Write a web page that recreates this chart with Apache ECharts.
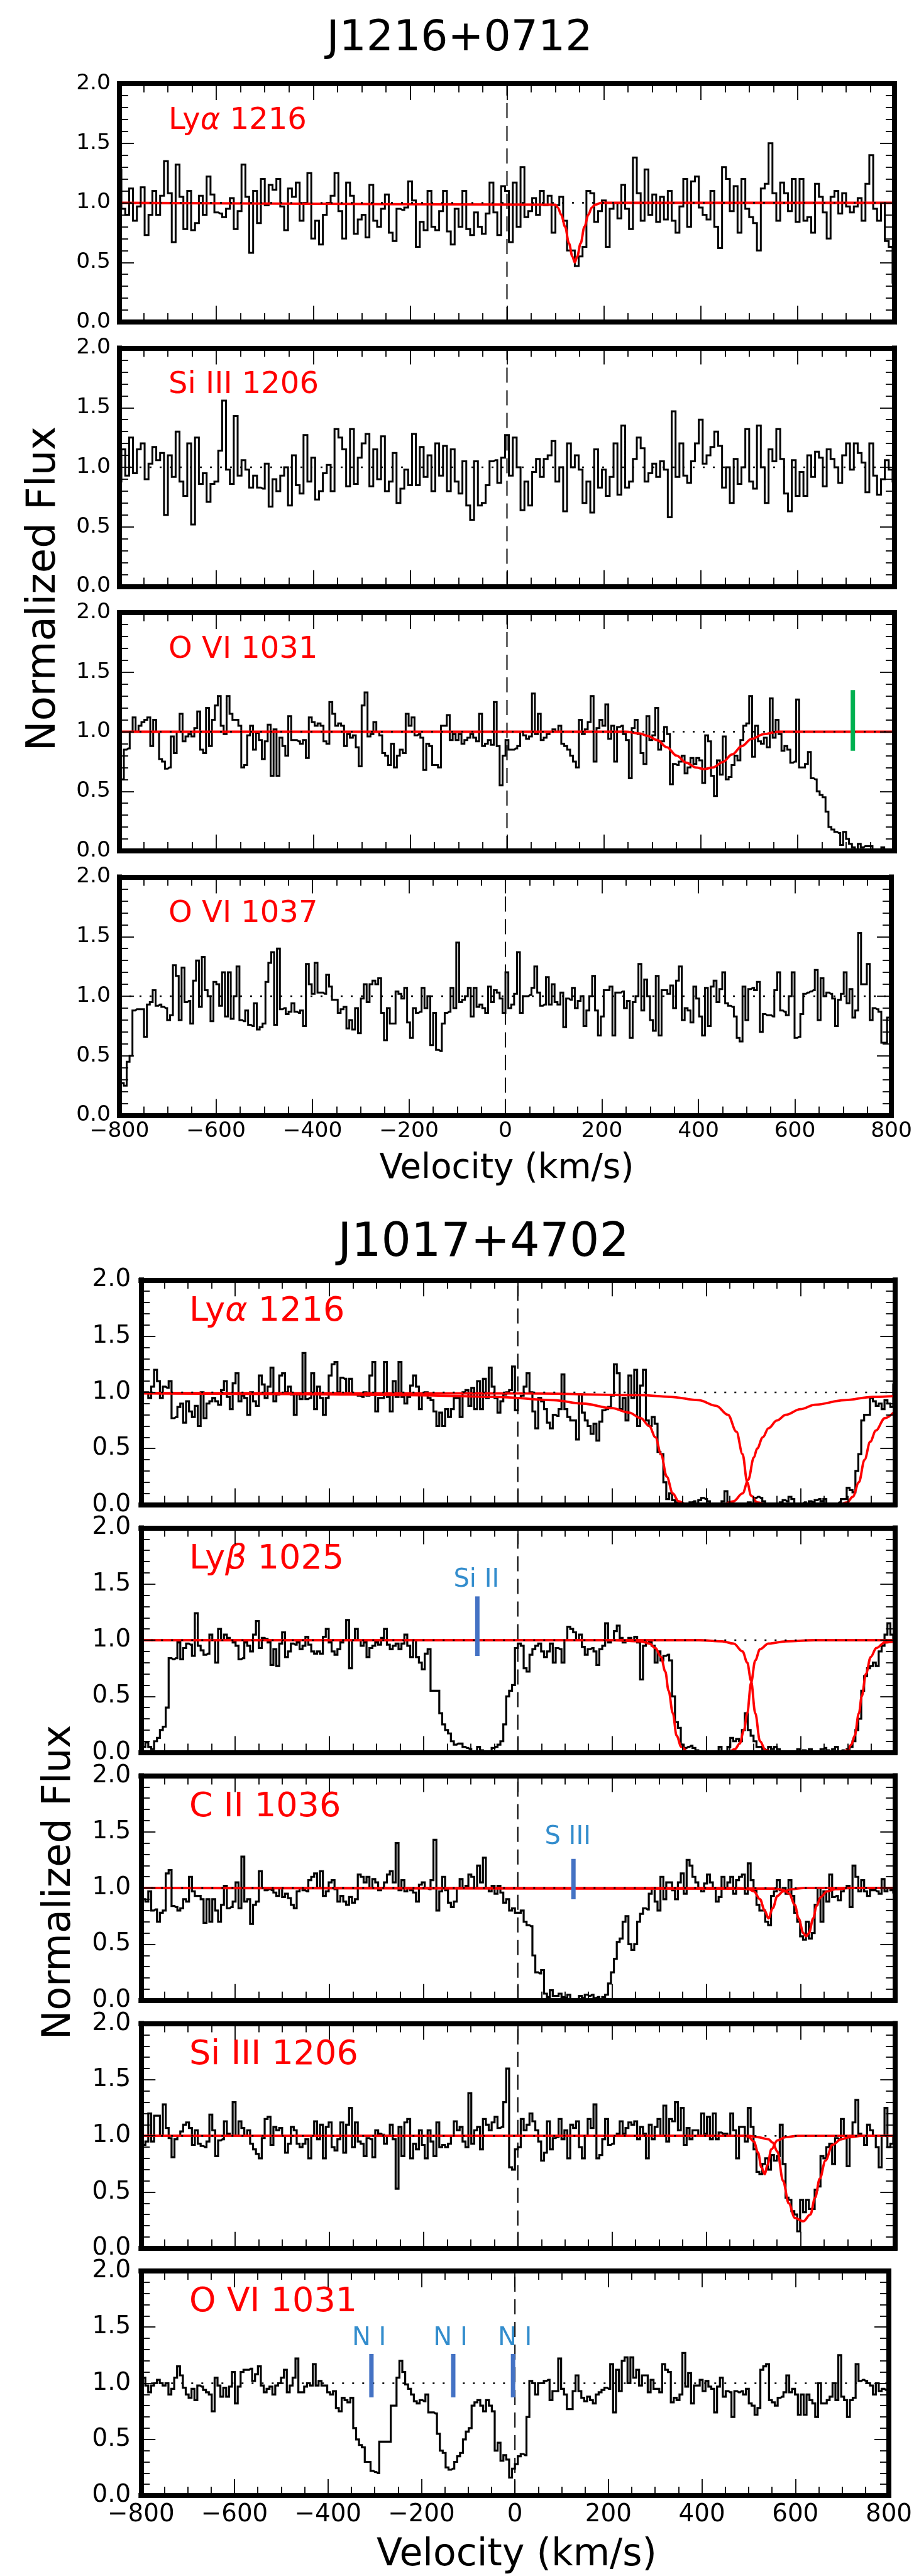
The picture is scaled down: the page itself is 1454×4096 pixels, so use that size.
<!DOCTYPE html>
<html>
<head>
<meta charset="utf-8">
<script src="https://cdn.jsdelivr.net/npm/echarts@6.0.0/dist/echarts.min.js"></script>
<style>
html, body { margin: 0; padding: 0; background: #fff; }
#main { width: 1454px; height: 4096px; }
</style>
</head>
<body>
<div id="main"></div>
<script>
// velocity range of every panel (km/s); fluxes are evenly spaced pixels across it
var velMin = -800, velMax = 800;
var xTicks = [-800, -600, -400, -200, 0, 200, 400, 600, 800];
var yTicks = ['0.0', '0.5', '1.0', '1.5', '2.0'];

// ---- J1216+0712 ----
var fluxJ1216Lya = [1.28,0.95,0.9,1.12,0.85,0.97,1.13,0.73,0.9,1.1,0.9,1.06,1.35,1.08,0.67,1.32,1.05,0.78,1.1,0.77,0.83,1.06,0.9,1.22,1.07,
0.92,0.91,0.88,0.95,1.04,0.78,0.93,1.32,1.05,0.58,1.1,0.83,1.2,0.98,1.15,1.11,1.2,0.97,0.77,1.12,1.05,1.17,0.85,1.0,1.25,
0.7,0.85,0.65,0.9,1.0,1.06,1.25,0.93,0.7,1.17,1.06,0.74,0.86,0.9,0.71,1.15,0.85,0.8,0.95,1.07,0.75,0.68,0.95,0.94,0.96,
1.18,1.02,0.63,0.84,0.77,1.1,0.8,0.77,0.93,1.1,0.76,0.65,0.95,0.8,1.1,0.78,0.73,0.92,0.8,0.74,0.91,1.17,0.92,0.73,1.14,
1.1,0.67,1.17,0.8,1.3,0.88,0.93,1.04,0.9,1.1,0.98,1.06,0.75,0.98,1.05,0.85,0.6,0.6,0.47,0.55,0.63,1.1,1.08,0.84,0.93,
1.02,0.63,0.95,1.0,0.87,1.15,0.95,0.78,1.38,1.08,0.85,1.28,0.9,1.07,0.84,1.05,0.86,1.1,0.85,0.75,0.97,1.2,0.8,1.18,1.22,
0.96,0.9,0.86,1.1,0.8,0.62,1.3,1.2,0.93,1.14,0.75,1.2,0.95,0.88,0.83,0.6,1.12,1.16,1.5,1.08,0.85,1.17,1.08,0.93,1.2,
0.84,1.2,0.85,0.88,0.75,1.16,1.05,0.92,0.7,1.05,1.1,0.91,1.08,0.97,0.92,0.97,1.04,0.85,1.16,1.4,0.95,0.85,1.0,0.68,0.63,0.33];

var fluxJ1216SiIII = [0.88,1.15,0.93,1.25,0.95,1.15,1.2,0.9,1.03,1.17,1.06,1.12,0.6,1.1,0.92,1.3,0.88,0.76,1.2,0.52,1.25,0.86,0.95,0.71,0.86,
0.88,1.14,1.56,0.98,0.86,1.43,0.93,1.06,0.98,0.83,0.93,0.83,0.82,1.03,0.67,0.9,0.8,0.93,1.0,0.68,1.1,0.85,0.78,1.27,0.88,
1.08,0.73,0.8,0.95,1.02,0.8,1.32,1.25,1.15,0.84,1.32,0.86,1.08,1.2,1.28,0.84,1.15,0.9,1.26,0.8,0.88,1.12,0.7,0.82,0.98,
0.85,1.28,0.85,1.17,0.92,1.1,0.8,1.2,0.93,1.18,0.8,1.15,0.88,0.78,1.05,0.68,0.56,1.05,0.68,0.7,0.85,1.05,1.06,0.87,1.08,
1.27,0.93,1.25,1.0,0.64,0.88,0.68,0.96,1.07,0.92,1.07,1.1,1.22,0.88,1.0,0.63,1.2,1.0,1.1,0.98,0.7,0.88,0.62,1.15,0.83,
0.98,0.76,0.92,1.2,0.77,1.35,0.83,0.88,1.07,1.25,1.16,0.88,0.95,1.03,0.92,1.05,0.98,0.58,1.47,0.92,1.2,0.93,0.87,1.05,1.2,
1.4,1.03,1.1,1.17,1.3,1.18,0.83,1.0,0.7,1.07,0.86,1.0,1.32,0.88,0.82,1.35,1.0,0.7,1.15,1.05,1.32,1.07,0.78,0.63,1.06,
0.76,0.96,0.76,1.1,0.92,1.13,1.08,0.84,1.15,1.07,1.0,0.87,1.1,1.2,0.98,1.2,1.12,1.04,0.79,1.2,0.93,0.77,0.9,1.06,0.98,0.88];

var fluxJ1216OVI1031 = [0.9,0.6,0.85,0.86,1.0,1.12,1.0,1.05,1.08,1.1,1.12,0.88,1.1,1.0,0.77,0.75,0.69,0.7,0.96,0.82,1.0,1.15,0.92,0.96,0.98,0.96,1.03,1.17,0.85,0.82,
1.2,0.88,1.1,1.22,1.3,1.05,0.98,1.3,1.15,1.1,1.1,1.05,0.7,0.72,0.97,1.05,0.85,0.99,0.93,0.77,0.92,1.06,0.63,1.02,0.63,0.95,0.88,0.8,1.13,0.93,
0.93,0.92,0.9,0.93,0.78,1.12,1.08,1.05,1.07,1.05,0.92,0.9,1.25,1.15,1.05,1.07,1.05,0.88,0.98,0.95,0.97,0.87,0.71,1.22,1.33,0.96,0.98,1.08,1.0,0.97,
0.82,0.8,0.72,0.9,0.7,0.8,0.85,0.82,1.15,1.05,1.12,0.97,0.98,0.95,0.68,0.9,0.88,0.72,0.72,0.7,1.05,1.05,1.14,0.93,0.98,0.93,0.98,0.9,0.93,0.95,
0.98,0.95,0.92,1.15,0.88,0.9,0.93,0.89,1.25,0.88,0.55,0.8,0.93,0.85,0.85,0.86,0.88,1.0,0.97,0.94,0.96,1.32,0.98,1.15,0.93,0.95,0.98,1.0,1.02,1.0,
1.05,0.9,0.88,0.85,0.8,0.75,0.7,1.1,0.98,1.02,1.08,1.3,0.75,1.03,1.1,1.05,1.23,0.94,1.05,0.75,1.04,1.05,0.98,0.93,0.61,1.03,1.1,0.98,0.82,0.73,
1.13,0.93,0.97,1.2,0.85,0.92,1.04,0.98,0.56,0.73,0.72,0.75,0.8,0.65,0.7,0.78,0.73,0.78,0.76,0.57,0.97,0.92,0.63,0.46,0.76,0.64,0.96,0.6,0.62,0.72,
0.8,0.76,0.93,1.05,1.07,1.3,0.79,1.05,0.92,0.9,0.95,0.87,1.28,0.95,1.1,0.98,0.84,0.88,0.85,0.74,0.75,1.27,0.7,0.7,0.73,0.83,0.61,0.6,0.5,0.47,
0.45,0.33,0.2,0.18,0.16,0.15,0.05,0.16,0.1,0.06,0.03,0.0,0.06,0.03,0.04,0.04,0.04,0.0,0.0,0.0,0.03,0.0,0.0,0.0,0.02];

var fluxJ1216OVI1037 = [0.05,0.27,0.25,0.45,0.5,0.88,0.89,0.89,0.89,0.66,0.93,0.95,1.05,0.92,0.93,0.91,0.9,0.8,0.84,1.26,1.17,0.8,1.24,0.95,0.96,0.77,1.13,1.3,0.91,1.33,
1.05,1.0,0.79,1.12,1.1,0.92,1.2,0.83,1.2,0.81,1.0,1.25,0.8,0.79,0.88,0.76,0.75,0.94,0.72,0.74,0.77,1.12,1.28,1.37,0.76,1.4,0.89,0.9,0.85,0.87,
0.94,0.87,0.86,0.88,0.75,1.27,1.1,1.02,1.28,1.03,1.03,1.02,1.18,1.08,0.97,0.97,0.86,0.89,0.91,0.73,0.8,0.72,0.9,0.69,0.98,1.1,0.95,1.1,1.13,1.1,
1.15,0.86,0.63,0.9,0.77,0.77,1.04,1.02,0.98,1.07,0.78,0.65,0.9,0.86,0.87,1.07,0.9,1.0,0.59,0.86,0.55,0.54,0.77,0.86,0.87,1.07,0.9,1.45,0.95,0.97,
1.0,1.07,0.83,1.07,0.91,0.93,0.9,0.86,1.08,0.95,1.05,1.03,0.98,0.86,1.2,0.9,0.93,1.02,1.37,0.86,1.0,1.0,1.01,1.07,1.25,1.03,0.92,0.93,1.16,0.93,
1.1,0.95,0.93,1.03,0.74,0.98,0.97,1.07,0.9,0.96,1.0,0.75,0.88,1.0,1.17,0.88,0.67,0.83,1.05,1.05,1.08,0.67,1.03,1.03,1.04,0.9,0.96,0.65,0.95,1.0,
1.27,0.88,1.14,1.0,0.8,0.71,1.17,0.67,1.05,1.05,1.02,1.09,0.9,1.13,1.25,0.8,0.9,0.88,0.78,1.08,0.98,0.83,0.67,1.07,0.75,1.08,1.13,0.95,1.06,1.2,
0.94,0.92,0.91,0.83,0.65,0.62,1.08,0.8,1.06,1.07,1.05,1.12,0.7,0.85,0.84,0.84,0.83,1.05,1.2,0.88,0.87,0.84,1.0,1.2,0.65,0.66,0.85,1.02,1.03,1.04,
1.05,1.22,0.8,1.15,1.0,1.03,1.02,0.98,0.75,0.97,1.02,1.2,0.94,1.06,0.82,0.88,1.53,1.1,1.1,1.27,0.8,0.9,0.89,0.87,0.61,0.61,0.82,0.82];

// ---- J1017+4702 ----
var fluxJ1017Lya = [0.96,1.0,1.0,0.95,1.05,1.2,1.1,0.95,1.05,1.04,1.1,0.77,0.78,0.87,0.9,0.73,0.92,0.83,0.78,0.88,0.7,1.0,0.77,0.9,0.92,0.95,0.92,0.89,1.02,1.1,
0.96,0.85,1.08,1.17,0.92,0.97,0.95,0.8,1.0,0.92,0.88,1.15,1.07,0.95,1.05,1.22,0.92,0.98,1.15,1.17,1.0,1.05,0.98,0.8,0.98,0.94,1.35,0.94,0.95,1.17,
0.85,1.05,0.95,0.8,0.95,1.15,1.25,1.27,1.0,1.13,1.12,0.98,1.12,0.98,0.99,0.97,0.96,1.0,0.97,1.15,1.27,0.83,0.95,0.95,1.27,0.96,0.83,1.1,0.96,1.27,
0.96,0.9,0.96,1.06,1.15,1.05,0.85,0.98,1.0,0.95,0.93,0.83,0.7,0.82,0.7,0.85,0.78,0.85,0.95,0.95,0.78,1.0,1.02,0.88,1.04,0.85,1.1,0.85,1.12,0.95,
1.22,1.05,0.95,0.82,0.92,0.98,1.0,1.02,1.23,0.84,0.95,0.97,1.05,1.17,1.0,0.83,0.68,0.95,0.92,0.85,0.73,0.68,0.8,0.79,0.85,1.16,0.85,0.78,0.75,0.75,
0.58,0.98,0.82,0.75,0.7,0.63,0.72,0.57,0.74,0.84,0.85,0.87,0.97,1.25,1.17,0.85,0.95,0.75,1.15,0.95,1.2,0.7,1.06,1.2,0.75,0.7,0.78,0.72,0.47,0.45,
0.2,0.05,0.1,0.04,0.02,0.01,0.0,0.01,0.0,0.02,0.03,0.0,0.04,0.06,0.05,0.03,0.01,0.0,0.0,0.0,0.03,0.12,0.02,0.0,0.0,0.0,0.0,0.01,0.0,0.02,
0.0,0.06,0.07,0.06,0.03,0.01,0.0,0.0,0.0,0.0,0.02,0.04,0.03,0.07,0.05,0.01,0.0,0.01,0.02,0.0,0.03,0.02,0.04,0.05,0.03,0.05,0.01,0.0,0.0,0.01,
0.02,0.05,0.05,0.15,0.13,0.11,0.3,0.45,0.75,0.8,0.8,0.95,0.92,0.88,0.9,0.85,0.93,0.9,0.87,1.07];

var fluxJ1017Lyb = [0.1,0.05,0.09,0.05,0.03,0.1,0.13,0.2,0.23,0.4,0.84,0.83,0.84,0.98,0.83,0.93,0.97,0.96,0.86,1.24,0.95,0.91,0.87,0.88,1.05,1.0,0.8,1.1,1.0,1.05,
1.02,1.0,0.98,0.95,0.83,0.84,0.98,0.95,0.9,1.05,1.17,0.93,1.02,1.01,0.98,0.78,0.92,0.77,0.97,1.07,0.85,0.9,0.97,0.96,0.98,0.92,0.95,1.03,0.96,0.9,
0.88,0.9,0.88,1.03,1.1,0.98,0.9,0.87,0.92,0.98,1.0,1.18,0.75,1.0,1.1,1.0,0.95,0.98,0.85,0.93,0.95,0.98,0.96,1.02,1.1,0.96,0.92,0.95,0.97,0.92,
0.97,1.05,0.95,0.85,1.0,0.85,0.8,0.74,0.88,0.92,0.55,0.55,0.55,0.35,0.25,0.2,0.17,0.1,0.07,0.08,0.08,0.05,0.04,0.03,0.01,0.0,0.05,0.02,0.0,0.0,
0.01,0.04,0.05,0.07,0.1,0.25,0.5,0.55,0.6,0.93,0.97,0.95,0.75,0.72,0.87,0.92,0.95,0.97,0.9,0.85,0.9,0.97,0.8,0.93,0.92,0.8,1.0,1.12,1.1,1.07,
1.0,1.05,0.94,0.87,0.92,0.93,0.9,0.78,0.92,0.95,1.15,0.98,1.0,1.08,1.13,1.02,0.98,1.0,1.02,1.0,1.03,0.98,0.65,0.95,1.0,0.98,0.95,0.8,0.9,0.82,
0.86,0.87,0.82,0.5,0.27,0.22,0.07,0.04,0.05,0.06,0.04,0.02,0.0,0.01,0.0,0.0,0.0,0.01,0.0,0.05,0.01,0.0,0.05,0.13,0.1,0.12,0.1,0.2,0.35,0.2,
0.15,0.1,0.05,0.05,0.03,0.02,0.05,0.03,0.05,0.03,0.01,0.0,0.0,0.0,0.0,0.0,0.03,0.0,0.02,0.01,0.03,0.0,0.01,0.0,0.03,0.04,0.02,0.0,0.03,0.05,
0.01,0.02,0.0,0.03,0.05,0.1,0.2,0.3,0.55,0.68,0.75,0.77,0.8,0.77,0.9,0.95,1.05,1.15,1.05,1.0];

var fluxJ1017CII = [0.98,0.9,0.88,0.97,0.8,0.81,0.7,0.78,0.8,1.13,1.16,0.84,0.83,0.8,0.82,0.9,0.88,1.1,0.97,0.93,0.93,0.9,0.69,0.9,0.7,0.9,0.8,0.7,0.85,1.02,
0.82,0.83,0.88,1.05,0.82,1.28,0.88,0.9,0.68,0.85,0.88,1.15,1.0,0.98,0.99,0.98,0.96,0.93,1.0,0.92,0.95,0.91,0.85,0.82,0.97,1.0,0.98,0.97,1.07,1.1,
1.13,1.0,1.15,0.93,0.97,1.05,1.07,0.99,0.88,0.93,0.88,0.85,0.92,0.87,0.9,1.12,1.1,1.05,1.1,1.0,1.08,1.05,0.98,1.0,1.05,1.12,1.15,1.05,1.4,0.98,
1.07,0.97,1.0,0.98,0.96,0.88,1.03,1.05,1.0,0.99,1.07,1.43,0.8,0.97,1.1,0.98,0.87,0.83,0.88,1.0,1.08,1.0,1.02,1.12,1.1,1.0,1.2,1.05,1.27,1.0,
0.97,1.02,0.95,1.02,0.96,0.87,0.9,0.8,0.82,0.78,0.78,0.8,0.7,0.67,0.66,0.4,0.25,0.24,0.27,0.06,0.03,0.09,0.04,0.04,0.06,0.03,0.02,0.05,0.0,0.01,
0.0,0.04,0.02,0.05,0.04,0.05,0.02,0.03,0.0,0.03,0.05,0.15,0.25,0.37,0.52,0.55,0.7,0.75,0.5,0.45,0.5,0.7,0.77,0.82,0.81,0.95,1.0,0.88,0.8,1.1,
0.9,1.05,1.05,0.98,0.9,1.05,1.13,0.95,1.25,1.2,1.1,1.05,1.0,0.97,1.04,1.12,1.05,1.0,0.88,0.92,1.1,1.0,1.05,1.1,0.95,1.07,1.1,1.12,0.95,1.22,
1.07,0.98,0.85,0.8,0.8,0.7,0.67,0.93,0.97,1.07,0.98,1.0,0.95,1.07,0.93,0.78,0.7,0.57,0.54,0.7,0.55,0.6,0.85,1.0,0.7,0.97,0.88,1.12,0.92,0.93,
0.89,0.97,1.0,1.02,0.83,1.2,1.1,0.97,1.07,0.97,0.93,0.98,0.98,0.97,0.95,1.08,0.97,1.0,0.98,0.96];

var fluxJ1017SiIII = [1.0,0.92,0.95,1.2,0.95,1.18,1.18,1.0,1.28,1.07,0.98,0.81,0.97,1.0,1.04,1.1,1.12,1.07,0.92,1.05,0.93,0.91,0.9,0.95,1.19,1.05,0.82,0.96,0.97,1.13,
1.02,1.0,1.3,1.0,1.13,1.07,1.0,1.05,0.93,0.88,0.84,0.8,0.98,1.15,1.17,0.92,1.08,1.05,1.07,1.0,0.85,0.93,1.08,1.05,0.93,0.9,0.93,0.97,0.8,1.0,
1.13,0.97,1.1,0.8,1.08,1.12,0.9,0.87,0.97,1.12,0.85,1.1,1.25,0.9,1.12,0.95,0.93,0.82,0.98,0.97,0.81,1.05,1.02,1.01,0.93,1.0,1.1,0.97,0.53,1.08,
0.82,1.12,1.15,0.8,0.93,0.88,1.05,0.92,0.8,1.05,0.95,0.82,1.12,0.9,0.92,0.9,0.93,1.0,1.13,1.05,1.08,0.95,0.9,1.38,0.93,1.05,1.08,0.88,1.15,1.1,
1.05,1.12,1.17,1.07,1.08,1.3,1.6,0.72,0.7,0.88,0.9,1.15,1.05,1.1,1.2,1.13,1.05,0.95,0.78,0.85,1.13,0.88,0.98,0.99,1.15,0.97,1.05,0.8,1.1,1.07,
1.13,0.9,0.8,1.0,1.15,1.07,1.28,0.8,0.83,0.97,1.15,0.92,0.93,1.0,1.02,1.13,1.02,1.07,1.12,1.1,1.13,0.97,1.08,1.02,0.8,1.1,0.97,1.08,1.15,1.0,
1.27,0.95,1.15,1.13,1.3,1.05,1.25,0.92,1.07,0.97,1.05,1.05,1.0,1.2,1.02,1.17,0.97,1.2,0.97,1.03,1.02,1.02,1.0,1.2,1.05,0.8,1.08,1.08,0.95,1.25,
1.08,0.88,0.68,0.66,0.75,0.8,0.7,0.83,0.78,0.82,1.1,0.75,0.45,0.43,0.33,0.3,0.15,0.43,0.32,0.43,0.35,0.35,0.52,0.55,0.82,0.8,0.9,0.93,0.75,0.98,
0.97,1.15,1.0,0.73,1.0,1.12,1.32,1.02,1.0,0.92,1.1,1.05,1.0,0.9,0.72,1.0,1.25,0.9,0.93,1.0];

var fluxJ1017OVI1031 = [0.83,1.05,0.98,0.92,0.98,1.0,1.03,1.0,0.98,1.0,0.9,0.95,1.05,1.15,1.07,0.96,0.9,0.87,0.95,0.85,0.98,0.97,0.94,0.92,0.9,0.75,1.05,0.98,0.88,0.96,
0.88,0.97,1.1,0.82,0.97,1.1,1.12,1.12,1.13,1.02,1.08,1.15,0.98,0.92,0.95,0.97,0.9,0.98,1.0,1.05,1.12,0.92,0.98,1.05,1.22,0.92,0.92,0.97,1.0,0.98,
1.17,0.98,1.02,0.98,0.98,0.92,0.9,0.93,0.78,0.75,0.87,0.85,0.83,0.87,0.6,0.5,0.45,0.43,0.3,0.3,0.22,0.21,0.2,0.48,0.48,0.48,0.48,0.8,0.8,1.05,
1.2,1.1,0.99,0.95,0.9,0.84,0.82,0.85,0.84,0.9,0.74,0.74,0.73,0.55,0.4,0.38,0.25,0.23,0.24,0.3,0.35,0.38,0.5,0.57,0.6,0.8,0.83,0.85,0.8,0.75,
0.85,0.8,0.75,0.4,0.47,0.31,0.36,0.32,0.16,0.24,0.28,0.35,0.37,0.36,0.7,1.02,1.0,0.9,1.0,1.0,1.02,1.03,0.85,0.93,0.93,1.22,0.95,0.9,0.77,0.77,
0.93,1.07,0.93,0.87,0.84,0.88,0.85,0.82,0.9,0.92,0.94,0.96,0.95,1.17,0.74,1.12,0.93,1.2,1.23,1.0,1.23,1.05,1.12,0.98,1.07,1.07,0.92,1.03,0.95,0.95,
0.92,1.17,1.12,1.1,0.83,0.87,0.85,0.9,1.27,0.97,1.09,0.82,0.98,0.98,1.03,0.93,1.02,0.97,0.95,0.74,0.97,1.05,0.88,0.93,0.92,0.7,0.93,0.92,0.93,0.9,
0.95,0.82,0.8,0.72,0.78,1.12,1.15,1.17,0.85,0.83,0.8,0.87,0.88,0.92,1.07,0.92,0.95,0.9,0.72,0.9,0.72,0.9,0.85,0.82,0.7,1.0,0.82,0.82,0.85,0.88,
1.0,0.85,1.25,0.88,0.85,0.7,0.85,0.87,1.17,1.02,1.03,1.02,1.0,0.98,0.9,1.0,0.93,0.95,0.94,0.88];

// fitted profiles, [velocity, flux] points
var modelJ1216Lya = [[-800,1],[100,0.985],[105,0.96],[112,0.9],[120,0.8],[128,0.66],[135,0.55],[140,0.5],[145,0.55],[152,0.66],[160,0.8],[168,0.9],[175,0.96],[182,0.985],[195,1],[800,1]];
var modelJ1216OVI = [[-800,1],[245,1],[275,0.985],[290,0.965],[310,0.93],[330,0.87],[350,0.8],[370,0.74],[390,0.7],[407,0.687],[425,0.7],[445,0.745],[465,0.81],[485,0.88],[505,0.94],[530,0.98],[560,1],[800,1]];
var modelJ1017LyaA = [[-800,0.99],[-479,0.985],[-233,0.975],[-48,0.96],[76,0.93],[138,0.9],[199,0.86],[236,0.82],[261,0.77],[279,0.7],[292,0.6],[304,0.45],[316,0.25],[329,0.1],[341,0.03],[360,0],[434,0],[458,0.03],[477,0.1],[489,0.22],[501,0.42],[508,0.5],[520,0.6],[532,0.68],[550,0.75],[569,0.8],[600,0.85],[631,0.89],[693,0.93],[754,0.96],[800,0.967]];
var modelJ1017LyaB = [[-800,0.995],[14,0.99],[261,0.975],[323,0.96],[384,0.93],[421,0.88],[446,0.8],[464,0.65],[477,0.45],[487,0.2],[495,0.08],[508,0.02],[532,0],[680,0],[699,0.02],[711,0.07],[724,0.2],[736,0.4],[748,0.56],[760,0.66],[779,0.77],[800,0.83]];
var modelJ1017LybA = [[-800,1],[200,1],[261,0.99],[279,0.97],[292,0.93],[304,0.85],[313,0.72],[320,0.55],[329,0.35],[337,0.15],[347,0.05],[360,0.01],[372,0],[446,0],[461,0.03],[471,0.08],[480,0.2],[487,0.35],[495,0.62],[504,0.82],[514,0.92],[532,0.97],[569,0.99],[631,1],[800,1]];
var modelJ1017LybB = [[-800,1],[384,1],[434,0.99],[458,0.97],[477,0.9],[487,0.8],[495,0.64],[504,0.35],[514,0.1],[526,0.02],[545,0],[687,0],[699,0.02],[708,0.07],[715,0.15],[724,0.35],[730,0.5],[739,0.7],[749,0.85],[761,0.93],[779,0.98],[800,0.99]];
var modelJ1017CIIA = [[-800,1],[470,1],[490,0.99],[501,0.97],[514,0.9],[524,0.8],[532,0.73],[541,0.82],[551,0.93],[563,0.97],[582,0.99],[606,1],[800,1]];
var modelJ1017CIIB = [[-800,1],[545,0.995],[563,0.985],[576,0.95],[588,0.85],[596,0.73],[606,0.6],[612,0.57],[618,0.6],[627,0.73],[634,0.84],[643,0.92],[656,0.97],[674,0.99],[705,1],[800,1]];
var modelJ1017SiIIIA = [[-800,1],[480,1],[489,0.995],[501,0.95],[510,0.85],[517,0.72],[524,0.66],[530,0.74],[538,0.88],[551,0.96],[569,0.99],[594,1],[800,1]];
var modelJ1017SiIIIB = [[-800,1],[490,1],[508,0.99],[532,0.97],[541,0.94],[551,0.86],[563,0.6],[575,0.4],[588,0.27],[606,0.24],[621,0.3],[631,0.45],[641,0.62],[653,0.78],[668,0.92],[686,0.97],[705,0.99],[730,1],[800,1]];

// line identification marks: velocity, bar bottom/top flux, label anchor
var marksJ1216OVI = [{name: '', v: 714, lo: 0.84, hi: 1.35, color: '#00b050'}];
var marksJ1017Lyb = [{name: 'Si II', v: -86, lo: 0.86, hi: 1.39, tv: -88, ty: 1.42, color: '#4472c4'}];
var marksJ1017CII = [{name: 'S III', v: 118, lo: 0.9, hi: 1.26, tv: 106, ty: 1.335, color: '#4472c4'}];
var marksJ1017OVI = [
  {name: 'N I', v: -307, lo: 0.874, hi: 1.26, tv: -312, ty: 1.28, color: '#4472c4'},
  {name: 'N I', v: -132, lo: 0.874, hi: 1.26, tv: -138, ty: 1.28, color: '#4472c4'},
  {name: 'N I', v: -4, lo: 0.874, hi: 1.26, tv: 0, ty: 1.28, color: '#4472c4'}
];

var FONT = 'DejaVu Sans';

var groups = [
  {left: 190, width: 1233, height: 379, tops: [133, 553.5, 974, 1394.5],
   tickFont: 34.5, xMargin: 8, yMargin: 14, tagFont: 48, tagLeft: 268, tagBase: 76, lw: 3},
  {left: 224.3, width: 1199, height: 357.2, tops: [2035.3, 2429.4, 2823.5, 3217.6, 3610.9],
   tickFont: 38.8, xMargin: 11.5, yMargin: 16, tagFont: 54, tagLeft: 301, tagBase: 69, lw: 3.2}
];

var panels = [
  {g: 0, row: 0, tag: 'Ly{i|α} 1216', flux: fluxJ1216Lya, models: [modelJ1216Lya]},
  {g: 0, row: 1, tag: 'Si III 1206', flux: fluxJ1216SiIII, models: []},
  {g: 0, row: 2, tag: 'O VI 1031', flux: fluxJ1216OVI1031, models: [modelJ1216OVI], marks: marksJ1216OVI},
  {g: 0, row: 3, tag: 'O VI 1037', flux: fluxJ1216OVI1037, models: [], showX: true},
  {g: 1, row: 0, tag: 'Ly{i|α} 1216', flux: fluxJ1017Lya, models: [modelJ1017LyaA, modelJ1017LyaB]},
  {g: 1, row: 1, tag: 'Ly{i|β} 1025', flux: fluxJ1017Lyb, models: [modelJ1017LybA, modelJ1017LybB], marks: marksJ1017Lyb},
  {g: 1, row: 2, tag: 'C II 1036', flux: fluxJ1017CII, models: [modelJ1017CIIA, modelJ1017CIIB], marks: marksJ1017CII},
  {g: 1, row: 3, tag: 'Si III 1206', flux: fluxJ1017SiIII, models: [modelJ1017SiIIIA, modelJ1017SiIIIB]},
  {g: 1, row: 4, tag: 'O VI 1031', flux: fluxJ1017OVI1031, models: [], marks: marksJ1017OVI, showX: true}
];

function toPairs(flux) {
  var n = flux.length;
  return flux.map(function (f, i) {
    return [velMin + i * (velMax - velMin) / (n - 1), f];
  });
}

function fmtVel(v) {
  return v < 0 ? '\u2212' + Math.abs(v) : String(v);
}

var grids = [], xAxes = [], yAxes = [], series = [], graphics = [];

panels.forEach(function (p, gi) {
  var g = groups[p.g];
  var top = g.tops[p.row];
  grids.push({left: g.left, top: top, width: g.width, height: g.height});

  var spine = {show: true, onZero: false, lineStyle: {color: '#000', width: 8, cap: 'square'}};
  var tickX = {show: true, inside: true, length: 26, lineStyle: {color: '#000', width: 1.8}};
  var tickY = {show: true, inside: true, length: 23, lineStyle: {color: '#000', width: 1.8}};
  var minorX = {show: true, splitNumber: 4, length: 14, lineStyle: {color: '#000', width: 1.8}};
  var minorY = {show: true, splitNumber: 5, length: 14, lineStyle: {color: '#000', width: 1.8}};
  ['bottom', 'top'].forEach(function (pos) {
    xAxes.push({
      type: 'value', gridIndex: gi, position: pos, min: xTicks[0], max: xTicks[xTicks.length - 1],
      interval: xTicks[1] - xTicks[0], z: 10,
      axisLine: spine, axisTick: tickX, minorTick: minorX,
      splitLine: {show: false}, minorSplitLine: {show: false},
      axisLabel: {
        show: pos === 'bottom' && !!p.showX, color: '#000', fontFamily: FONT,
        fontSize: g.tickFont, margin: g.xMargin, formatter: fmtVel,
        showMinLabel: true, showMaxLabel: true
      }
    });
  });
  ['left', 'right'].forEach(function (pos) {
    yAxes.push({
      type: 'value', gridIndex: gi, position: pos, min: 0, max: 2, interval: 0.5, z: 10,
      axisLine: spine, axisTick: tickY, minorTick: minorY,
      splitLine: {show: false}, minorSplitLine: {show: false},
      axisLabel: {
        show: pos === 'left', color: '#000', fontFamily: FONT, fontSize: g.tickFont,
        margin: g.yMargin, showMinLabel: true, showMaxLabel: true,
        formatter: function (v) { return yTicks[Math.round(v * 2)]; }
      }
    });
  });

  var xi = 2 * gi, yi = 2 * gi;
  var base = {xAxisIndex: xi, yAxisIndex: yi, symbol: 'none', silent: true, animation: false};

  // zero velocity
  series.push(Object.assign({}, base, {
    type: 'line', data: [[0, 0], [0, 2]], z: 1,
    lineStyle: {color: '#000', width: 2, type: [24, 12]}
  }));
  // spectrum
  series.push(Object.assign({}, base, {
    type: 'line', step: 'middle', data: toPairs(p.flux), z: 2,
    lineStyle: {color: '#000', width: g.lw, join: 'miter'}
  }));
  // fits
  p.models.forEach(function (m) {
    series.push(Object.assign({}, base, {
      type: 'line', data: m, smooth: 0.35, smoothMonotone: 'x', z: 3,
      lineStyle: {color: '#ff0000', width: 3.8}
    }));
  });
  // continuum
  series.push(Object.assign({}, base, {
    type: 'line', data: [[velMin, 1], [velMax, 1]], z: 4,
    lineStyle: {color: '#000', width: 2.5, type: [3, 13]}
  }));
  // identification marks
  (p.marks || []).forEach(function (mk) {
    series.push(Object.assign({}, base, {
      type: 'line', data: [[mk.v, mk.lo], [mk.v, mk.hi]], z: 6,
      lineStyle: {color: mk.color, width: 7}
    }));
    if (mk.name) {
      series.push(Object.assign({}, base, {
        type: 'scatter', symbol: 'circle', symbolSize: 1, z: 6,
        itemStyle: {color: 'transparent'},
        data: [{value: [mk.tv, mk.ty], name: mk.name}],
        label: {show: true, position: 'top', distance: 0, formatter: '{b}',
                color: '#0070c0', fontFamily: FONT, fontSize: 40}
      }));
    }
  });

  // red line label inside the panel
  graphics.push({
    type: 'text', x: g.tagLeft, y: top + g.tagBase + 0.154 * g.tagFont, silent: true,
    style: {
      text: p.tag, fill: '#ff0000', fontFamily: FONT, fontSize: g.tagFont,
      align: 'left', verticalAlign: 'bottom', textAlign: 'left', textVerticalAlign: 'bottom',
      rich: {i: {fontStyle: 'italic', fontFamily: FONT, fontSize: g.tagFont, fill: '#ff0000'}}
    }
  });
});

function textEl(x, y, text, size, rot) {
  return {
    type: 'text', x: x, y: y, rotation: rot || 0, silent: true,
    style: {
      text: text, fill: '#000', fontFamily: FONT, fontSize: size,
      align: 'center', verticalAlign: rot ? 'middle' : 'bottom',
      textAlign: 'center', textVerticalAlign: rot ? 'middle' : 'bottom'
    }
  };
}

graphics.push(textEl(731, 86 + 0.154 * 68, 'J1216+0712', 68));
graphics.push(textEl(769, 2004 + 0.154 * 74.5, 'J1017+4702', 74.5));
graphics.push(textEl(806, 1877.5 + 0.154 * 54.5, 'Velocity (km/s)', 54.5));
graphics.push(textEl(822, 4084 + 0.154 * 60, 'Velocity (km/s)', 60));
graphics.push(textEl(70, 936, 'Normalized Flux', 64, Math.PI / 2));
graphics.push(textEl(95, 2993, 'Normalized Flux', 62, Math.PI / 2));

var myChart = echarts.init(document.getElementById('main'), null, {renderer: 'canvas'});
var option = {
  backgroundColor: '#fff',
  animation: false,
  grid: grids,
  xAxis: xAxes,
  yAxis: yAxes,
  series: series,
  graphic: {elements: graphics}
};
myChart.setOption(option);
</script>
</body>
</html>
